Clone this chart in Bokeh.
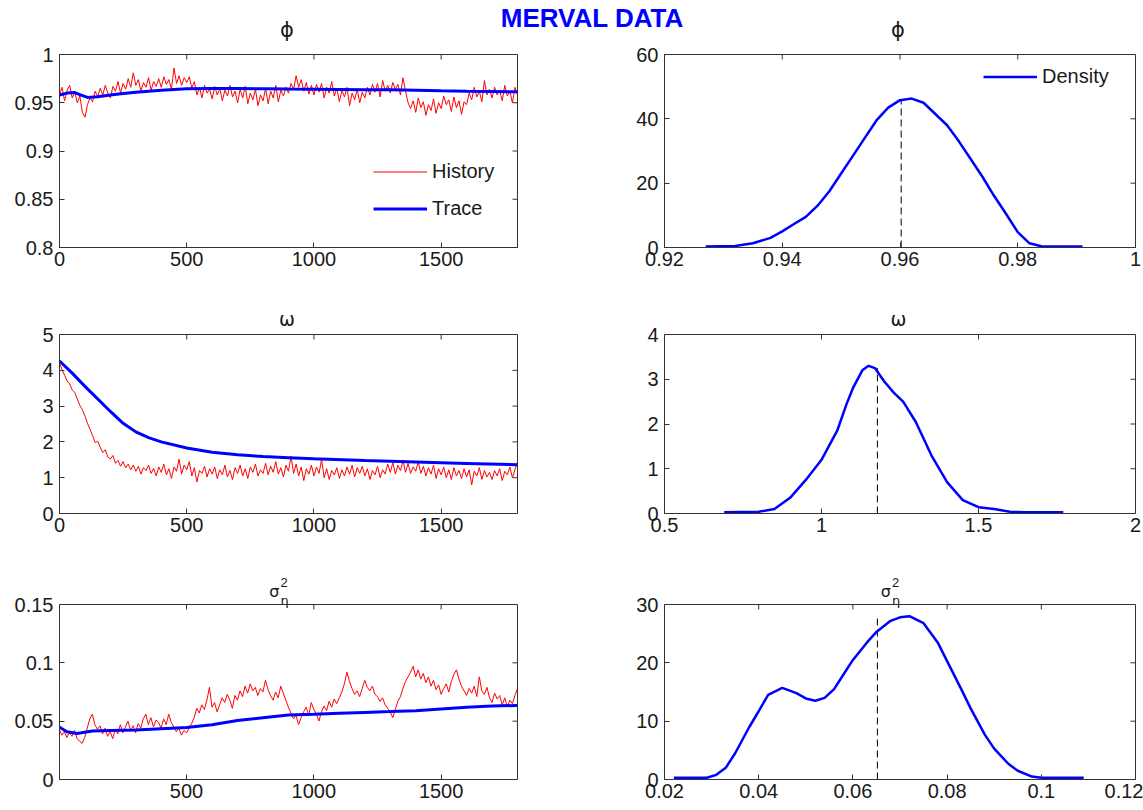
from bokeh.plotting import figure
from bokeh.models import Range1d, FixedTicker, LinearAxis, Legend, LegendItem, Div
from bokeh.layouts import column, row
from bokeh.embed import file_html
from bokeh.resources import INLINE
from bokeh.core.properties import value

# ---------------- data ----------------
hist_iter = list(range(0, 1801, 10))

phi_hist = [
    0.958, 0.966, 0.952, 0.963, 0.968, 0.955, 0.961, 0.950, 0.957, 0.940,
    0.935, 0.948, 0.955, 0.951, 0.962, 0.956, 0.965, 0.958, 0.968, 0.960,
    0.955, 0.967, 0.962, 0.972, 0.960, 0.970, 0.964, 0.975, 0.966, 0.981,
    0.968, 0.974, 0.962, 0.971, 0.966, 0.976, 0.963, 0.972, 0.967, 0.975,
    0.966, 0.977, 0.969, 0.974, 0.964, 0.986, 0.970, 0.978, 0.968, 0.976,
    0.971, 0.977, 0.965, 0.972, 0.958, 0.966, 0.955, 0.968, 0.960, 0.964,
    0.954, 0.967, 0.958, 0.965, 0.952, 0.963, 0.957, 0.968, 0.956, 0.962,
    0.950, 0.964, 0.955, 0.967, 0.949, 0.960, 0.953, 0.964, 0.947, 0.958,
    0.952, 0.965, 0.949, 0.962, 0.955, 0.968, 0.951, 0.963, 0.957, 0.966,
    0.960, 0.970, 0.964, 0.978, 0.966, 0.974, 0.962, 0.971, 0.959, 0.968,
    0.958, 0.969, 0.961, 0.970, 0.955, 0.966, 0.960, 0.972, 0.957, 0.965,
    0.951, 0.963, 0.956, 0.966, 0.947, 0.960, 0.953, 0.964, 0.950, 0.961,
    0.955, 0.966, 0.958, 0.969, 0.961, 0.970, 0.956, 0.973, 0.962, 0.968,
    0.960, 0.971, 0.964, 0.969, 0.958, 0.976, 0.962, 0.950, 0.944, 0.952,
    0.940, 0.955, 0.945, 0.951, 0.937, 0.948, 0.942, 0.954, 0.939, 0.950,
    0.944, 0.957, 0.948, 0.953, 0.941, 0.956, 0.945, 0.952, 0.938, 0.951,
    0.948, 0.960, 0.953, 0.966, 0.956, 0.962, 0.951, 0.973, 0.958, 0.964,
    0.955, 0.966, 0.958, 0.963, 0.952, 0.968, 0.957, 0.962, 0.950, 0.966,
    0.958,
]

omega_hist = [
    4.20, 4.02, 3.86, 3.70, 3.62, 3.45, 3.38, 3.20, 3.02, 2.90,
    2.72, 2.52, 2.35, 2.18, 1.98, 2.02, 1.85, 1.70, 1.78, 1.58,
    1.52, 1.62, 1.40, 1.48, 1.32, 1.45, 1.28, 1.38, 1.22, 1.35,
    1.18, 1.32, 1.10, 1.28, 1.20, 1.35, 1.12, 1.26, 1.05, 1.30,
    1.15, 1.38, 1.08, 1.25, 0.98, 1.30, 1.18, 1.52, 1.10, 1.35,
    1.22, 1.45, 1.05, 1.28, 0.88, 1.20, 1.12, 1.32, 1.02, 1.25,
    1.10, 1.30, 0.98, 1.22, 1.08, 1.35, 1.02, 1.20, 0.95, 1.28,
    1.12, 1.35, 1.05, 1.25, 0.98, 1.30, 1.15, 1.38, 1.05, 1.22,
    1.12, 1.40, 1.08, 1.32, 1.15, 1.45, 1.10, 1.28, 1.02, 1.35,
    1.18, 1.60, 1.12, 1.38, 1.05, 1.30, 0.92, 1.25, 1.10, 1.35,
    1.05, 1.30, 1.12, 1.52, 1.00, 1.25, 0.95, 1.20, 1.08, 1.28,
    0.98, 1.22, 1.05, 1.30, 1.10, 1.35, 1.02, 1.28, 1.12, 1.32,
    1.05, 1.25, 0.95, 1.20, 1.08, 1.32, 1.00, 1.22, 1.10, 1.38,
    1.15, 1.42, 1.10, 1.35, 1.20, 1.48, 1.15, 1.40, 1.12, 1.30,
    1.18, 1.45, 1.12, 1.32, 1.05, 1.28, 1.10, 1.35, 0.98, 1.25,
    1.08, 1.30, 1.00, 1.22, 0.95, 1.28, 1.05, 1.20, 0.98, 1.25,
    1.02, 1.22, 0.80, 1.18, 1.05, 1.28, 0.95, 1.20, 1.02, 1.15,
    0.95, 1.20, 1.05, 1.25, 0.92, 1.18, 1.08, 1.30, 1.00, 1.22,
    1.45,
]

sigma_hist = [
    0.043, 0.038, 0.041, 0.036, 0.040, 0.037, 0.042, 0.035, 0.033, 0.031,
    0.036, 0.044, 0.052, 0.056, 0.047, 0.043, 0.046, 0.039, 0.044, 0.037,
    0.041, 0.035, 0.043, 0.039, 0.047, 0.040, 0.045, 0.050, 0.042, 0.046,
    0.040, 0.048, 0.044, 0.052, 0.056, 0.047, 0.053, 0.045, 0.051, 0.049,
    0.044, 0.052, 0.047, 0.056, 0.049, 0.045, 0.041, 0.044, 0.038, 0.042,
    0.040, 0.044, 0.048, 0.053, 0.061, 0.057, 0.064, 0.060, 0.068, 0.079,
    0.062, 0.066, 0.058, 0.064, 0.070, 0.066, 0.073, 0.068, 0.061, 0.072,
    0.068, 0.076, 0.071, 0.080, 0.074, 0.082, 0.076, 0.079, 0.072, 0.078,
    0.075, 0.085, 0.077, 0.072, 0.068, 0.075, 0.070, 0.080, 0.074, 0.068,
    0.062, 0.057, 0.052, 0.055, 0.047, 0.053, 0.058, 0.062, 0.055, 0.066,
    0.060, 0.056, 0.050, 0.058, 0.063, 0.059, 0.067, 0.062, 0.069, 0.065,
    0.070, 0.075, 0.082, 0.092, 0.084, 0.078, 0.073, 0.076, 0.071, 0.078,
    0.085, 0.079, 0.076, 0.080, 0.073, 0.071, 0.067, 0.070, 0.064, 0.061,
    0.058, 0.053, 0.060, 0.067, 0.071, 0.078, 0.084, 0.088, 0.092, 0.097,
    0.088, 0.094, 0.086, 0.091, 0.083, 0.088, 0.080, 0.085, 0.077, 0.081,
    0.073, 0.078, 0.082, 0.075, 0.084, 0.090, 0.094, 0.086, 0.080, 0.076,
    0.072, 0.078, 0.074, 0.080, 0.071, 0.088, 0.076, 0.073, 0.079, 0.070,
    0.066, 0.074, 0.069, 0.072, 0.064, 0.070, 0.062, 0.068, 0.065, 0.072,
    0.078,
]

phi_trace_iter = [0, 30, 60, 85, 110, 150, 200, 250, 300, 400, 500, 600, 700,
                  800, 900, 1000, 1100, 1200, 1300, 1400, 1500, 1600, 1700, 1800]
phi_trace = [0.958, 0.960, 0.9605, 0.958, 0.9555, 0.9562, 0.958, 0.9595, 0.961,
             0.963, 0.9645, 0.9648, 0.9647, 0.9645, 0.9642, 0.964, 0.9638, 0.9636,
             0.9634, 0.963, 0.9624, 0.962, 0.9617, 0.9613]

omega_trace_iter = [0, 50, 100, 150, 200, 250, 300, 350, 400, 500, 600, 700, 800,
                    900, 1000, 1200, 1400, 1600, 1800]
omega_trace = [4.26, 3.92, 3.55, 3.20, 2.85, 2.52, 2.28, 2.12, 2.00, 1.83, 1.71,
               1.64, 1.59, 1.56, 1.53, 1.48, 1.44, 1.40, 1.36]

sigma_trace_iter = [0, 30, 70, 130, 200, 300, 400, 500, 600, 700, 800, 900, 1000,
                    1100, 1200, 1300, 1400, 1500, 1600, 1700, 1800]
sigma_trace = [0.045, 0.041, 0.0395, 0.0415, 0.042, 0.0425, 0.0435, 0.0445, 0.047,
               0.0505, 0.053, 0.0553, 0.056, 0.0568, 0.0575, 0.0582, 0.059, 0.0605,
               0.062, 0.063, 0.0635]

phi_dens_x = [0.927, 0.932, 0.935, 0.938, 0.940, 0.942, 0.944, 0.946, 0.948, 0.950,
              0.952, 0.954, 0.956, 0.958, 0.960, 0.962, 0.964, 0.966, 0.968, 0.970,
              0.972, 0.974, 0.976, 0.978, 0.980, 0.982, 0.984, 0.991]
phi_dens_y = [0.3, 0.5, 1.3, 3.0, 5.0, 7.3, 9.5, 13.0, 17.5, 23.0,
              28.5, 34.0, 39.5, 43.5, 45.8, 46.3, 45.0, 41.5, 38.0, 33.0,
              27.5, 22.0, 16.0, 10.5, 4.8, 1.3, 0.4, 0.3]

omega_dens_x = [0.69, 0.80, 0.85, 0.90, 0.95, 1.00, 1.05, 1.08, 1.10, 1.13, 1.15, 1.17,
                1.20, 1.23, 1.26, 1.30, 1.35, 1.40, 1.45, 1.50, 1.55, 1.60, 1.65, 1.77]
omega_dens_y = [0.03, 0.04, 0.10, 0.35, 0.75, 1.20, 1.85, 2.45, 2.80, 3.20, 3.30, 3.25,
                2.95, 2.70, 2.50, 2.05, 1.30, 0.70, 0.30, 0.14, 0.10, 0.04, 0.03, 0.03]

sigma_dens_x = [0.022, 0.029, 0.031, 0.033, 0.035, 0.038, 0.040, 0.042, 0.045, 0.048,
                0.050, 0.052, 0.054, 0.056, 0.058, 0.060, 0.063, 0.065, 0.068, 0.070,
                0.072, 0.075, 0.078, 0.080, 0.083, 0.085, 0.088, 0.090, 0.093, 0.095,
                0.098, 0.100, 0.109]
sigma_dens_y = [0.3, 0.3, 0.8, 2.0, 4.5, 9.0, 11.7, 14.5, 15.7, 14.8,
                13.9, 13.5, 14.0, 15.5, 18.0, 20.5, 23.5, 25.3, 27.2, 27.8,
                28.0, 26.8, 23.5, 20.3, 15.5, 12.2, 7.7, 5.3, 2.7, 1.5,
                0.5, 0.3, 0.3]

# posterior means (dashed lines): position and height
phi_mean, phi_mean_top = 0.9602, 45.8
omega_mean, omega_mean_top = 1.178, 3.25
sigma_mean, sigma_mean_top = 0.0652, 28.0

# ticks
iter_ticks = [0, 500, 1000, 1500]
iter_labels = ["0", "500", "1000", "1500"]
iter_ticks_b = [500, 1000, 1500]
iter_labels_b = ["500", "1000", "1500"]
phi_hist_yticks = [0.8, 0.85, 0.9, 0.95, 1.0]
phi_hist_ylabels = ["0.8", "0.85", "0.9", "0.95", "1"]
omega_hist_yticks = [0, 1, 2, 3, 4, 5]
omega_hist_ylabels = ["0", "1", "2", "3", "4", "5"]
sigma_hist_yticks = [0, 0.05, 0.1, 0.15]
sigma_hist_ylabels = ["0", "0.05", "0.1", "0.15"]
phi_dens_xticks = [0.92, 0.94, 0.96, 0.98, 1.0]
phi_dens_xlabels = ["0.92", "0.94", "0.96", "0.98", "1"]
phi_dens_yticks = [0, 20, 40, 60]
phi_dens_ylabels = ["0", "20", "40", "60"]
omega_dens_xticks = [0.5, 1.0, 1.5, 2.0]
omega_dens_xlabels = ["0.5", "1", "1.5", "2"]
omega_dens_yticks = [0, 1, 2, 3, 4]
omega_dens_ylabels = ["0", "1", "2", "3", "4"]
sigma_dens_xticks = [0.02, 0.04, 0.06, 0.08, 0.1, 0.12]
sigma_dens_xlabels = ["0.02", "0.04", "0.06", "0.08", "0.1", "0.12"]
sigma_dens_yticks = [0, 10, 20, 30]
sigma_dens_ylabels = ["0", "10", "20", "30"]

# ---------------- style ----------------
FONT = "Liberation Sans"
GREEK = "DejaVu Sans"
TXT = "#1a1a1a"
AXC = "#333333"
RED = "#ff0000"
BLUE = "#0000ff"
FS = "20px"
TICK = 5

LW, RW = 590, 553
ROWS = [  # canvas height, border top, border bottom, extra frame px above the box
    (246, 10, 43, 0),
    (270, 6, 47, 38),
    (250, 6, 31, 38),
]
COLS = [  # width, border left, border right
    (LW, 59, 73),
    (RW, 74, 8),
]
GEOM = {}


def make_fig(r, c, xr, yb, xt, xl, yt, yl):
    h, bt, bb, ext = ROWS[r]
    w, bl, br = COLS[c]
    fw = w - bl - br
    fh = h - bt - bb
    xpp = (xr[1] - xr[0]) / fw
    ypp = (yb[1] - yb[0]) / (fh - ext)
    y_end = yb[1] + ext * ypp
    p = figure(width=w, height=h, x_range=Range1d(*xr), y_range=Range1d(yb[0], y_end),
               output_backend="svg", toolbar_location=None,
               x_axis_location=None, y_axis_location=None,
               min_border_left=bl, min_border_right=br,
               min_border_top=bt, min_border_bottom=bb)
    p.grid.visible = False
    p.background_fill_color = "white"
    p.border_fill_color = "white"
    p.outline_line_color = AXC if ext == 0 else None

    def base_axis(ax):
        ax.axis_line_color = AXC
        ax.major_tick_line_color = AXC
        ax.minor_tick_line_color = None
        ax.major_tick_in = TICK
        ax.major_tick_out = 0
        ax.major_label_text_font = FONT
        ax.major_label_text_color = TXT
        ax.major_label_text_font_size = FS

    xa = LinearAxis(ticker=FixedTicker(ticks=xt),
                    major_label_overrides={t: s for t, s in zip(xt, xl)})
    base_axis(xa)
    xa.major_label_standoff = 4
    p.add_layout(xa, "below")
    ya = LinearAxis(ticker=FixedTicker(ticks=yt), bounds=(yb[0], yb[1]),
                    major_label_overrides={t: s for t, s in zip(yt, yl)})
    base_axis(ya)
    ya.major_label_standoff = 6
    p.add_layout(ya, "left")
    if ext > 0:
        ra = LinearAxis(ticker=FixedTicker(ticks=[]), bounds=(yb[0], yb[1]))
        base_axis(ra)
        ra.major_label_standoff = 0
        p.add_layout(ra, "right")
        p.segment(x0=[xr[0]], y0=[yb[1]], x1=[xr[1]], y1=[yb[1]], line_color=AXC, line_width=1)
    # inward ticks on the top and right edges of the box
    p.segment(x0=xt, y0=[yb[1]] * len(xt), x1=xt, y1=[yb[1] - TICK * ypp] * len(xt),
              line_color=AXC, line_width=1)
    p.segment(x0=[xr[1]] * len(yt), y0=yt, x1=[xr[1] - TICK * xpp] * len(yt), y1=yt,
              line_color=AXC, line_width=1)
    GEOM[p.id] = (xr, yb, xpp, ypp)
    return p


def put_text(p, dx_px, up_px, text, size, font, align):
    xr, yb, xpp, ypp = GEOM[p.id]
    xc = (xr[0] + xr[1]) / 2
    p.text(x=[xc + dx_px * xpp], y=[yb[1] + up_px * ypp], text=[text],
           text_font=value(font), text_font_size=value(size), text_color=TXT,
           text_align=align, text_baseline="alphabetic")


def omega_title(p):
    put_text(p, -1.5, 16, "ω", "19px", GREEK, "center")


def sigma_title(p):
    put_text(p, -9, 13, "σ", "16px", GREEK, "right")
    put_text(p, -8, 22, "2", "13px", FONT, "left")
    put_text(p, -8, 4.5, "η", "13px", GREEK, "left")


def style_legend(lg):
    lg.border_line_alpha = 0
    lg.background_fill_alpha = 0
    lg.padding = 0
    lg.margin = 0
    lg.spacing = 14
    lg.glyph_width = 54
    lg.glyph_height = 23
    lg.label_height = 23
    lg.label_standoff = 5
    lg.label_text_font = FONT
    lg.label_text_font_size = FS
    lg.label_text_color = TXT


def mean_line(p, x, top):
    p.segment(x0=[x], y0=[0], x1=[x], y1=[top], line_color="black", line_width=1,
              line_dash="7 4")


# ---------------- row 1 : phi ----------------
p1 = make_fig(0, 0, (0, 1800), (0.8, 1.0), iter_ticks, iter_labels,
              phi_hist_yticks, phi_hist_ylabels)
r_h1 = p1.line(hist_iter, phi_hist, line_color=RED, line_width=1)
r_t1 = p1.line(phi_trace_iter, phi_trace, line_color=BLUE, line_width=3)
lg1 = Legend(items=[LegendItem(label="History", renderers=[r_h1]),
                    LegendItem(label="Trace", renderers=[r_t1])], location=(314, 27))
style_legend(lg1)
p1.add_layout(lg1)

p2 = make_fig(0, 1, (0.92, 1.0), (0, 60), phi_dens_xticks, phi_dens_xlabels,
              phi_dens_yticks, phi_dens_ylabels)
mean_line(p2, phi_mean, phi_mean_top)
r_d2 = p2.line(phi_dens_x, phi_dens_y, line_color=BLUE, line_width=2.5)
lg2 = Legend(items=[LegendItem(label="Density", renderers=[r_d2])], location=(319, 159))
style_legend(lg2)
p2.add_layout(lg2)

# ---------------- row 2 : omega ----------------
p3 = make_fig(1, 0, (0, 1800), (0, 5), iter_ticks, iter_labels,
              omega_hist_yticks, omega_hist_ylabels)
p3.line(hist_iter, omega_hist, line_color=RED, line_width=1)
p3.line(omega_trace_iter, omega_trace, line_color=BLUE, line_width=3)
omega_title(p3)

p4 = make_fig(1, 1, (0.5, 2.0), (0, 4), omega_dens_xticks, omega_dens_xlabels,
              omega_dens_yticks, omega_dens_ylabels)
mean_line(p4, omega_mean, omega_mean_top)
p4.line(omega_dens_x, omega_dens_y, line_color=BLUE, line_width=2.5)
omega_title(p4)

# ---------------- row 3 : sigma^2_eta ----------------
p5 = make_fig(2, 0, (1, 1800), (0, 0.15), iter_ticks_b, iter_labels_b,
              sigma_hist_yticks, sigma_hist_ylabels)
p5.line(hist_iter, sigma_hist, line_color=RED, line_width=1)
p5.line(sigma_trace_iter, sigma_trace, line_color=BLUE, line_width=3)
sigma_title(p5)

p6 = make_fig(2, 1, (0.02, 0.12), (0, 30), sigma_dens_xticks, sigma_dens_xlabels,
              sigma_dens_yticks, sigma_dens_ylabels)
mean_line(p6, sigma_mean, sigma_mean_top)
p6.line(sigma_dens_x, sigma_dens_y, line_color=BLUE, line_width=2.5)
sigma_title(p6)

# ---------------- header (overall title + phi titles) ----------------
header_html = (
    '<div style="position:relative;width:1143px;height:44px;">'
    '<div style="position:absolute;left:592px;top:5px;transform:translateX(-50%);'
    "white-space:nowrap;font-family:'Liberation Sans';font-size:26px;line-height:26px;"
    'font-weight:bold;color:#0000ff;">MERVAL DATA</div>'
    '<div style="position:absolute;left:287px;top:20px;transform:translateX(-50%);'
    "font-family:'DejaVu Sans';font-size:21px;line-height:21px;color:#1a1a1a;\">ϕ</div>"
    '<div style="position:absolute;left:898px;top:20px;transform:translateX(-50%);'
    "font-family:'DejaVu Sans';font-size:21px;line-height:21px;color:#1a1a1a;\">ϕ</div>"
    '</div>'
)
header = Div(text=header_html, width=1143, height=44, margin=(0, 0, 0, 0))

layout = column(header, row(p1, p2), row(p3, p4), row(p5, p6), spacing=0)

with open("out.html", "w", encoding="utf-8") as f:
    f.write(file_html(layout, INLINE))
